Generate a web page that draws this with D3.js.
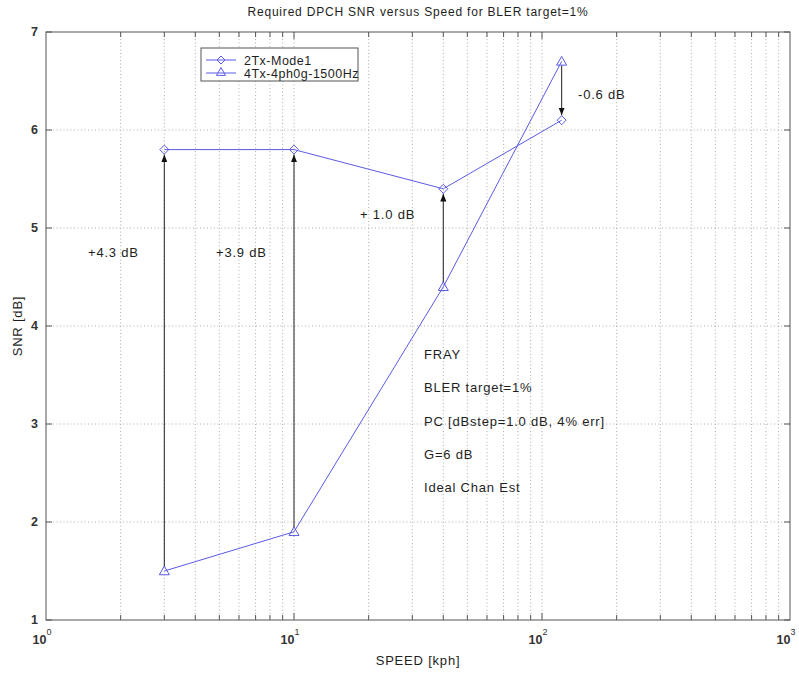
<!DOCTYPE html>
<html><head><meta charset="utf-8">
<script src="https://cdn.jsdelivr.net/npm/d3@7"></script>
<style>body{margin:0;background:#fff}text{font-family:"Liberation Sans",Arial,sans-serif}</style>
</head><body><svg id="c" width="799" height="675"></svg>
<script>
const speeds = [3, 10, 40, 120];
const mode1 = [5.8, 5.8, 5.4, 6.1];
const tx4 = [1.5, 1.9, 4.4, 6.7];
const seriesNames = ["2Tx-Mode1", "4Tx-4ph0g-1500Hz"];
const deltaLabels = ["+4.3 dB", "+3.9 dB", "+ 1.0 dB", "-0.6 dB"];
const infoLines = ["FRAY", "BLER target=1%", "PC [dBstep=1.0 dB, 4% err]", "G=6 dB", "Ideal Chan Est"];
const yTicks = [1, 2, 3, 4, 5, 6, 7];
const xDecades = [1, 10, 100, 1000];

const svg = d3.select("#c");
const L = 46, R = 790, T = 32, B = 620;
const x = d3.scaleLog().domain([1, 1000]).range([L, R]);
const y = d3.scaleLinear().domain([1, 7]).range([B, T]);
const blue = "#5a5ae6";
const txt = "#1e1e1e";

const minor = [];
[1, 10, 100].forEach(d => { for (let k = 2; k <= 9; k++) minor.push(d * k); });
const gridX = minor.concat([10, 100]);

const g = svg.append("g");
g.selectAll("line.vg").data(gridX).join("line")
  .attr("x1", d => x(d)).attr("x2", d => x(d)).attr("y1", T).attr("y2", B)
  .attr("stroke", "#9a9a9a").attr("stroke-width", 0.8).attr("stroke-dasharray", "1,2.5");
g.selectAll("line.hg").data(yTicks.slice(1, -1)).join("line")
  .attr("x1", L).attr("x2", R).attr("y1", d => y(d)).attr("y2", d => y(d))
  .attr("stroke", "#9a9a9a").attr("stroke-width", 0.8).attr("stroke-dasharray", "1,2.5");

g.append("rect").attr("x", L).attr("y", T).attr("width", R - L).attr("height", B - T)
  .attr("fill", "none").attr("stroke", "#555").attr("stroke-width", 1);

gridX.forEach(d => {
  const len = [10, 100].includes(d) ? 7 : 5;
  g.append("line").attr("x1", x(d)).attr("x2", x(d)).attr("y1", B).attr("y2", B - len).attr("stroke", "#555");
  g.append("line").attr("x1", x(d)).attr("x2", x(d)).attr("y1", T).attr("y2", T + len).attr("stroke", "#555");
});
yTicks.forEach(d => {
  g.append("line").attr("x1", L).attr("x2", L + 6).attr("y1", y(d)).attr("y2", y(d)).attr("stroke", "#555");
  g.append("line").attr("x1", R).attr("x2", R - 6).attr("y1", y(d)).attr("y2", y(d)).attr("stroke", "#555");
});

svg.selectAll("text.yt").data(yTicks).join("text")
  .attr("x", L - 8).attr("y", d => y(d) + 4).attr("text-anchor", "end")
  .attr("font-size", 12.5).attr("font-weight", "bold").attr("fill", "#333").text(d => d);

xDecades.forEach(d => {
  const e = Math.round(Math.log10(d));
  const t = svg.append("text").attr("x", x(d) - 4).attr("y", B + 24).attr("text-anchor", "middle")
    .attr("font-size", 12.5).attr("fill", "#333");
  t.append("tspan").attr("font-weight", "bold").text("10");
  t.append("tspan").attr("dy", -9).attr("font-size", 9).text(e);
});

const sp = 0.8;
svg.append("text").attr("x", 418).attr("y", 16).attr("text-anchor", "middle").attr("font-size", 12)
  .attr("letter-spacing", sp).attr("fill", txt)
  .text("Required DPCH SNR versus Speed for BLER target=1%");
svg.append("text").attr("x", 418).attr("y", 665).attr("text-anchor", "middle").attr("font-size", 13)
  .attr("letter-spacing", sp).attr("fill", txt).text("SPEED [kph]");
svg.append("text").attr("transform", "translate(22,326) rotate(-90)").attr("text-anchor", "middle").attr("font-size", 13)
  .attr("letter-spacing", sp).attr("fill", txt).text("SNR [dB]");

svg.append("defs").append("marker").attr("id", "ah").attr("viewBox", "0 0 10 10")
  .attr("refX", 10).attr("refY", 5).attr("markerWidth", 7).attr("markerHeight", 7).attr("orient", "auto")
  .append("path").attr("d", "M0,1 L10,5 L0,9 Z").attr("fill", "#111");
speeds.forEach((s, i) => {
  const y0 = y(tx4[i]), y1 = y(mode1[i]);
  const dir = y1 < y0 ? 1 : -1;
  svg.append("line").attr("x1", x(s)).attr("x2", x(s))
    .attr("y1", y0 - dir * 4).attr("y2", y1 + dir * 5)
    .attr("stroke", "#333").attr("stroke-width", 1.1).attr("marker-end", "url(#ah)");
});

const line = d3.line().x(d => x(d[0])).y(d => y(d[1]));
const d1 = speeds.map((s, i) => [s, mode1[i]]);
const d2 = speeds.map((s, i) => [s, tx4[i]]);
svg.append("path").attr("d", line(d1)).attr("fill", "none").attr("stroke", blue).attr("stroke-width", 1);
svg.append("path").attr("d", line(d2)).attr("fill", "none").attr("stroke", blue).attr("stroke-width", 1);
const diamond = (cx, cy, r) => `M${cx},${cy - r}L${cx + r},${cy}L${cx},${cy + r}L${cx - r},${cy}Z`;
const tri = (cx, cy, r) => `M${cx},${cy - r}L${cx + r},${cy + r * 0.75}L${cx - r},${cy + r * 0.75}Z`;
d1.forEach(d => svg.append("path").attr("d", diamond(x(d[0]), y(d[1]), 4.5)).attr("fill", "none").attr("stroke", blue));
d2.forEach(d => svg.append("path").attr("d", tri(x(d[0]), y(d[1]), 5)).attr("fill", "none").attr("stroke", blue));

const dlPos = [[88, 257], [216, 257], [360, 219], [578, 99]];
deltaLabels.forEach((t, i) => svg.append("text").attr("x", dlPos[i][0]).attr("y", dlPos[i][1])
  .attr("font-size", 13).attr("letter-spacing", sp).attr("fill", txt).text(t));

infoLines.forEach((t, i) => svg.append("text").attr("x", 424).attr("y", 359 + i * 33.3)
  .attr("font-size", 13).attr("letter-spacing", sp).attr("fill", txt).text(t));

const lg = svg.append("g");
lg.append("rect").attr("x", 201).attr("y", 48).attr("width", 157).attr("height", 33)
  .attr("fill", "#fff").attr("stroke", "#555").attr("stroke-width", 1);
seriesNames.forEach((n, i) => {
  const ly = 60 + i * 13;
  lg.append("line").attr("x1", 206).attr("x2", 236).attr("y1", ly).attr("y2", ly).attr("stroke", blue);
  lg.append("path").attr("d", i === 0 ? diamond(221, ly, 4) : tri(221, ly - 1, 4.5)).attr("fill", "none").attr("stroke", blue);
  lg.append("text").attr("x", 244).attr("y", ly + 4.5).attr("font-size", 12.5).attr("letter-spacing", 0.5)
    .attr("fill", txt).text(n);
});
</script></body></html>
